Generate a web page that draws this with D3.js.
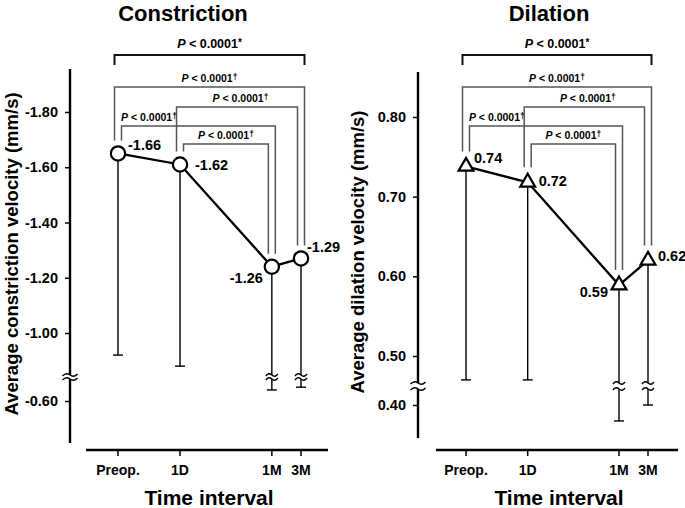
<!DOCTYPE html>
<html><head><meta charset="utf-8">
<script src="https://cdn.jsdelivr.net/npm/d3@7"></script>
<style>
html,body{margin:0;padding:0;background:#fff;}
svg{display:block;font-family:"Liberation Sans",Arial,sans-serif;}
</style></head>
<body>
<svg id="chart" width="685" height="508"></svg>
<script>
// ---------- data ----------
const categories = ["Preop.", "1D", "1M", "3M"];
const timePos = [0, 1, 2.48, 2.95];          // relative spacing of the time points
const constrictionMean = [-1.65, -1.61, -1.24, -1.27];
const constrictionLabels = ["-1.66", "-1.62", "-1.26", "-1.29"];
const constrictionLower = [-0.92, -0.88, -0.64, -0.65];
const constrictionTicksUpper = [-1.8, -1.6, -1.4, -1.2, -1.0];
const constrictionTicksLower = [-0.6];
const dilationMean = [0.738, 0.718, 0.589, 0.62];
const dilationLabels = ["0.74", "0.72", "0.59", "0.62"];
const dilationLower = [0.47, 0.47, 0.38, 0.40];
const dilationTicksUpper = [0.8, 0.7, 0.6, 0.5];
const dilationTicksLower = [0.4];
// comparisons: from, to, marker, label span
const comparisons = [
  {a: 0, b: 3, mark: "*", span: [0, 3]},
  {a: 0, b: 3, mark: "\u2020", span: [0, 3]},
  {a: 1, b: 3, mark: "\u2020", span: [1, 3]},
  {a: 0, b: 2, mark: "\u2020", span: [0, 1]},
  {a: 1, b: 2, mark: "\u2020", span: [1, 2]}
];
const pText = "< 0.0001";

// ---------- layout / style ----------
const bracketLevels = [55, 87, 107, 126, 144];
const legSides = [[-3.5, 3.5], [-3.5, 3.5], [-3.5, -3.5], [3.5, 3.5], [3.5, -3.5]];
const panels = [
  {title: "Constriction", ylabel: "Average constriction velocity (mm/s)",
   mean: constrictionMean, labels: constrictionLabels, lower: constrictionLower,
   ticksU: constrictionTicksUpper, ticksL: constrictionTicksLower,
   axisX: 70, xAxis: [86, 328], pts: [118, 301],
   yU: {d: [-1.0, -1.8], r: [333, 112]}, yL: {d: [-0.6, -0.8], r: [401, 345.75]},
   top: 69, brk: [375, 379], bottom: 443, marker: "circle",
   labelOff: [[10, -3, "start"], [15, 6, "start"], [-9, 16, "end"], [6, -6, "start"]],
   titleX: 183, ylabX: 18, ylabY: 254, legGap: 13},
  {title: "Dilation", ylabel: "Average dilation velocity (mm/s)",
   mean: dilationMean, labels: dilationLabels, lower: dilationLower,
   ticksU: dilationTicksUpper, ticksL: dilationTicksLower,
   axisX: 418, xAxis: [436, 678], pts: [466, 648],
   yU: {d: [0.5, 0.8], r: [356, 117]}, yL: {d: [0.4, 0.5], r: [405, 325.3]},
   top: 72, brk: [383, 389], bottom: 438, marker: "triangle",
   labelOff: [[8, -3, "start"], [11, 4, "start"], [-11, 12, "end"], [10, 1, "start"]],
   titleX: 549, ylabX: 364, ylabY: 252, legGap: 15}
];

const svg = d3.select("#chart");
svg.append("rect").attr("width", 685).attr("height", 508).attr("fill", "#fff");

function tilde(x, y, w) {
  const h = w / 2;
  return `M${x - h},${y + 1} Q${x - h / 2},${y - 3} ${x},${y} T${x + h},${y - 1}`;
}

panels.forEach(p => {
  const g = svg.append("g");
  const x = d3.scaleLinear().domain([timePos[0], timePos[3]]).range(p.pts);
  const yU = d3.scaleLinear().domain(p.yU.d).range(p.yU.r);
  const yL = d3.scaleLinear().domain(p.yL.d).range(p.yL.r);
  const inUpper = v => yU(v) <= p.brk[0];
  const yOf = v => inUpper(v) ? yU(v) : yL(v);

  // title
  g.append("text").attr("x", p.titleX).attr("y", 21).attr("text-anchor", "middle")
    .attr("font-size", 22).attr("font-weight", "bold").text(p.title);

  // y axis label
  g.append("text").attr("transform", `translate(${p.ylabX},${p.ylabY}) rotate(-90)`)
    .attr("text-anchor", "middle").attr("font-size", 18.5).attr("font-weight", "bold").text(p.ylabel);

  // y axis segments
  const fmt = d => d.toFixed(2);
  const axU = g.append("g").attr("transform", `translate(${p.axisX},0)`)
    .call(d3.axisLeft(yU).tickValues(p.ticksU).tickFormat(fmt).tickSize(5).tickPadding(7));
  const axL = g.append("g").attr("transform", `translate(${p.axisX},0)`)
    .call(d3.axisLeft(yL).tickValues(p.ticksL).tickFormat(fmt).tickSize(5).tickPadding(7));
  [axU, axL].forEach(a => {
    a.select(".domain").remove();
    a.selectAll("line").attr("stroke", "#000").attr("stroke-width", 1.5);
    a.selectAll("text").attr("font-size", 14.5).attr("font-weight", "bold")
      .attr("font-family", "Liberation Sans, Arial, sans-serif").attr("fill", "#000");
  });
  g.append("line").attr("x1", p.axisX).attr("x2", p.axisX).attr("y1", p.top).attr("y2", p.brk[0])
    .attr("stroke", "#000").attr("stroke-width", 2.4);
  g.append("line").attr("x1", p.axisX).attr("x2", p.axisX).attr("y1", p.brk[1]).attr("y2", p.bottom)
    .attr("stroke", "#000").attr("stroke-width", 2.4);
  p.brk.forEach(by => g.append("path").attr("d", tilde(p.axisX, by, 15))
    .attr("fill", "none").attr("stroke", "#000").attr("stroke-width", 1.4));

  // x axis
  const xAxisY = 450;
  g.append("line").attr("x1", p.xAxis[0]).attr("x2", p.xAxis[1]).attr("y1", xAxisY).attr("y2", xAxisY)
    .attr("stroke", "#000").attr("stroke-width", 2.4);
  categories.forEach((c, i) => {
    g.append("line").attr("x1", x(timePos[i])).attr("x2", x(timePos[i]))
      .attr("y1", xAxisY).attr("y2", xAxisY + 6).attr("stroke", "#000").attr("stroke-width", 1.5);
    g.append("text").attr("x", x(timePos[i])).attr("y", 475).attr("text-anchor", "middle")
      .attr("font-size", 14).attr("font-weight", "bold").text(c);
  });
  g.append("text").attr("x", (p.xAxis[0] + p.xAxis[1]) / 2 + 2).attr("y", 505).attr("text-anchor", "middle")
    .attr("font-size", 21).attr("font-weight", "bold").text("Time interval");

  // error bars (lower side)
  p.mean.forEach((m, i) => {
    const cx = x(timePos[i]);
    const lo = p.lower[i];
    const ym = yOf(m);
    const eb = g.append("g").attr("stroke", "#000").attr("stroke-width", 1.4).attr("fill", "none");
    if (inUpper(lo)) {
      eb.append("line").attr("x1", cx).attr("x2", cx).attr("y1", ym).attr("y2", yU(lo));
    } else {
      eb.append("line").attr("x1", cx).attr("x2", cx).attr("y1", ym).attr("y2", p.brk[0]);
      eb.append("line").attr("x1", cx).attr("x2", cx).attr("y1", p.brk[1]).attr("y2", yL(lo));
      p.brk.forEach(by => eb.append("path").attr("d", tilde(cx, by, 12)));
    }
    eb.append("line").attr("x1", cx - 5).attr("x2", cx + 5).attr("y1", yOf(lo)).attr("y2", yOf(lo));
  });

  // comparison brackets
  comparisons.forEach((c, k) => {
    const ly = bracketLevels[k];
    const xa = x(timePos[c.a]) + legSides[k][0];
    const xb = x(timePos[c.b]) + legSides[k][1];
    const isTop = k === 0;
    const ya = isTop ? ly + 10 : yOf(p.mean[c.a]) - p.legGap;
    const yb = isTop ? ly + 10 : yOf(p.mean[c.b]) - p.legGap;
    g.append("path").attr("d", `M${xa},${ya} L${xa},${ly} L${xb},${ly} L${xb},${yb}`)
      .attr("fill", "none").attr("stroke", isTop ? "#111" : "#555")
      .attr("stroke-width", isTop ? 2 : 1.5);
    const tx = (x(timePos[c.span[0]]) + x(timePos[c.span[1]])) / 2;
    const t = g.append("text").attr("x", tx).attr("y", isTop ? 48 : ly - 5)
      .attr("text-anchor", "middle").attr("font-weight", "bold")
      .attr("font-size", isTop ? 12.5 : 10.5);
    t.append("tspan").attr("font-style", "italic").text("P");
    t.append("tspan").text(" " + pText);
    t.append("tspan").attr("font-size", isTop ? 10 : 8.5).attr("dy", -2).text(c.mark);
  });

  // mean line
  const line = d3.line().x((d, i) => x(timePos[i])).y(d => yOf(d));
  g.append("path").datum(p.mean).attr("d", line).attr("fill", "none")
    .attr("stroke", "#000").attr("stroke-width", 2.3);

  // markers
  const sym = d3.symbol().type(p.marker === "circle" ? d3.symbolCircle : d3.symbolTriangle)
    .size(p.marker === "circle" ? 160 : 95);
  g.selectAll(".mk").data(p.mean).enter().append("path")
    .attr("transform", (d, i) => `translate(${x(timePos[i])},${yOf(d)})`)
    .attr("d", sym).attr("fill", "#fff").attr("stroke", "#000").attr("stroke-width", 2.2);

  // value labels
  p.labels.forEach((lab, i) => {
    const o = p.labelOff[i];
    g.append("text").attr("x", x(timePos[i]) + o[0]).attr("y", yOf(p.mean[i]) + o[1])
      .attr("text-anchor", o[2]).attr("font-size", 14.5).attr("font-weight", "bold").text(lab);
  });
});
</script>
</body></html>
